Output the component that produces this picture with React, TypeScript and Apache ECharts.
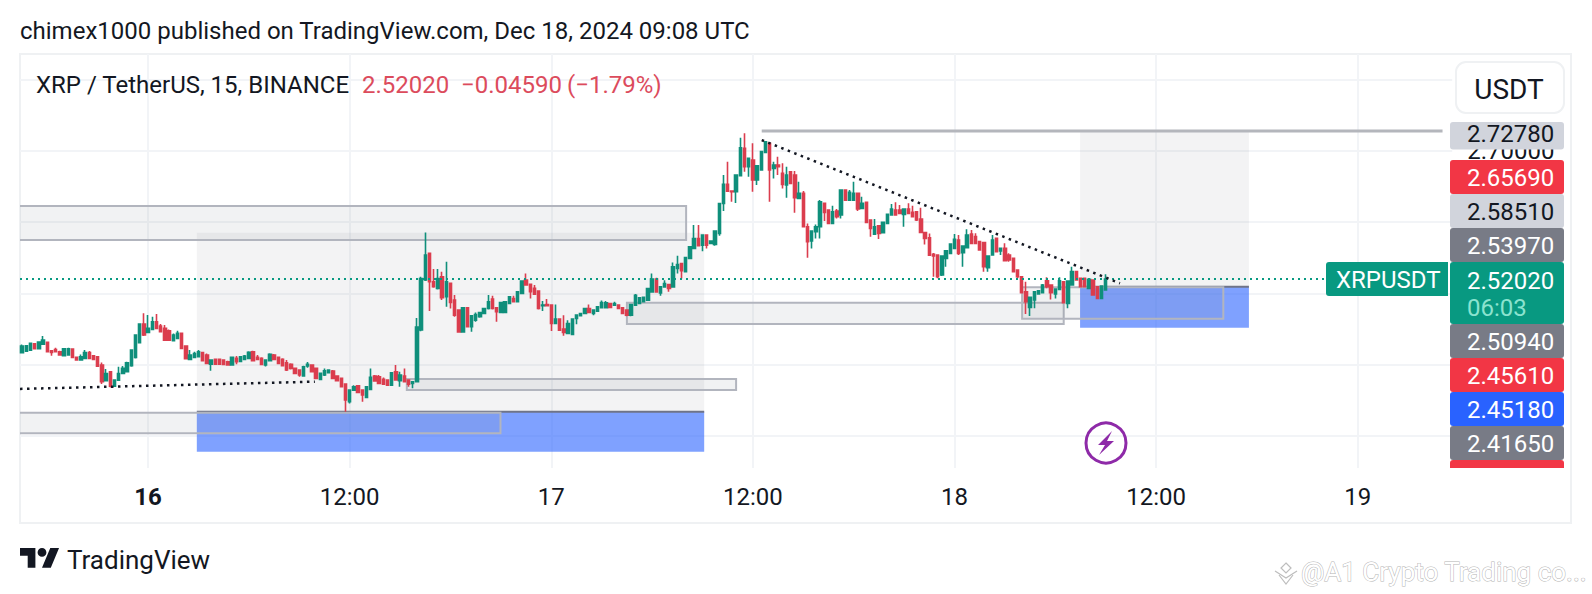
import React, { useEffect, useRef } from "react";
import * as echarts from "echarts";

// Candles: [open, close, low, high], 15-minute bars from Dec 15 16:30
const ohlcDec15Evening = [
  [2.4167,2.4261,2.4158,2.4285],[2.4191,2.4266,2.4182,2.4275],[2.4205,2.4299,2.4196,2.4303],[2.4294,2.4224,2.4219,2.4299],
  [2.4224,2.4317,2.4219,2.4327],[2.4289,2.4345,2.4275,2.4402],[2.4313,2.4182,2.4177,2.4317],[2.4196,2.4172,2.4125,2.4205],
  [2.4214,2.4182,2.4172,2.4238],[2.4182,2.4135,2.4125,2.4196],[2.4125,2.4224,2.4121,2.4233],[2.4135,2.4224,2.4125,2.4238],
  [2.4219,2.4102,2.4097,2.4228],[2.4102,2.4065,2.4055,2.4111],[2.4065,2.4111,2.4060,2.4144],[2.4088,2.4172,2.4083,2.4205],
  [2.4172,2.4088,2.4083,2.4191],[2.4125,2.4074,2.4065,2.4135],[2.4111,2.3980,2.3976,2.4121],[2.3994,2.3760,2.3728,2.4032],
  [2.3774,2.3877,2.3770,2.3938],[2.3901,2.3700,2.3681,2.3910],[2.3700,2.3784,2.3690,2.3793],[2.3784,2.3877,2.3779,2.3971],
  [2.3877,2.3948,2.3868,2.3980],[2.3901,2.4027,2.3891,2.4041],[2.3985,2.4205,2.3971,2.4214],[2.4102,2.4416,2.4088,2.4425],
  [2.4308,2.4570,2.4299,2.4579],[2.4570,2.4416,2.4402,2.4720],[2.4453,2.4509,2.4448,2.4696],[2.4495,2.4603,2.4486,2.4673],
  [2.4603,2.4509,2.4500,2.4710],[2.4542,2.4462,2.4453,2.4570],[2.4509,2.4345,2.4336,2.4556],[2.4476,2.4345,2.4336,2.4495],
  [2.4336,2.4416,2.4327,2.4439],[2.4369,2.4439,2.4359,2.4476],[2.4439,2.4228,2.4219,2.4448],[2.4261,2.4083,2.4074,2.4271],
  [2.4074,2.4135,2.4065,2.4205],[2.4102,2.4158,2.4093,2.4182],[2.4111,2.4182,2.4102,2.4205],[2.4172,2.4055,2.4046,2.4182],
  [2.4135,2.4018,2.4008,2.4158],[2.4008,2.4065,2.3915,2.4074],[2.4074,2.4008,2.3999,2.4083],[2.4074,2.4008,2.3999,2.4083],
];
const ohlcDec16Morning = [
  [2.4065,2.4005,2.3995,2.4075],[2.4042,2.3995,2.3986,2.4056],[2.3995,2.4103,2.3986,2.4112],[2.4089,2.4042,2.4005,2.4122],
  [2.4047,2.4112,2.4042,2.4122],[2.4075,2.4122,2.4065,2.4136],[2.4089,2.4173,2.4075,2.4187],[2.4182,2.4056,2.4047,2.4196],
  [2.4103,2.4075,2.4065,2.4136],[2.4089,2.4005,2.3995,2.4103],[2.3995,2.4065,2.3976,2.4075],[2.4056,2.4145,2.4047,2.4159],
  [2.4136,2.4075,2.4065,2.4150],[2.4103,2.4019,2.4005,2.4112],[2.4075,2.3986,2.3976,2.4089],[2.4028,2.3925,2.3911,2.4065],
  [2.4005,2.3948,2.3934,2.4019],[2.3948,2.3878,2.3869,2.3958],[2.3925,2.3855,2.3831,2.3934],[2.3841,2.3972,2.3831,2.3986],
  [2.3981,2.4005,2.3958,2.4037],[2.3995,2.3902,2.3892,2.4005],[2.3948,2.3808,2.3799,2.3958],[2.3794,2.3878,2.3785,2.3888],
  [2.3855,2.3916,2.3841,2.3948],[2.3888,2.3925,2.3878,2.3930],[2.3911,2.3808,2.3799,2.3925],[2.3841,2.3775,2.3766,2.3850],
  [2.3808,2.3691,2.3682,2.3822],[2.3728,2.3504,2.3340,2.3738],[2.3480,2.3644,2.3457,2.3654],[2.3644,2.3691,2.3635,2.3710],
  [2.3705,2.3611,2.3602,2.3714],[2.3644,2.3574,2.3480,2.3654],[2.3541,2.3691,2.3532,2.3700],[2.3654,2.3822,2.3640,2.3948],
  [2.3841,2.3771,2.3761,2.3855],[2.3831,2.3738,2.3728,2.3855],[2.3794,2.3728,2.3719,2.3822],[2.3785,2.3714,2.3705,2.3794],
  [2.3714,2.3888,2.3705,2.3897],[2.3902,2.3785,2.3775,2.3995],[2.3775,2.3855,2.3691,2.3902],[2.3841,2.3761,2.3752,2.3948],
  [2.3785,2.3728,2.3691,2.3794],[2.3738,2.3761,2.3668,2.3766],[2.3762,2.4529,2.3750,2.4655],
];
const ohlcDec16Afternoon = [
  [2.4487,2.5210,2.4470,2.5234],[2.5187,2.5538,2.5173,2.5856],[2.5561,2.5163,2.4752,2.5575],[2.5163,2.5093,2.5079,2.5341],
  [2.5070,2.5210,2.5056,2.5341],[2.5234,2.4939,2.4906,2.5304],[2.4953,2.5163,2.4812,2.5444],[2.5140,2.4873,2.4789,2.5150],
  [2.4906,2.4695,2.4672,2.4976],[2.4766,2.4461,2.4452,2.4775],[2.4461,2.4798,2.4452,2.4808],[2.4798,2.4532,2.4522,2.4808],
  [2.4532,2.4686,2.4461,2.4695],[2.4625,2.4705,2.4602,2.4733],[2.4672,2.4733,2.4660,2.4742],[2.4719,2.4789,2.4710,2.4798],
  [2.4789,2.4883,2.4775,2.4976],[2.4920,2.4789,2.4775,2.4967],[2.4798,2.4742,2.4602,2.4808],[2.4733,2.4873,2.4724,2.4883],
  [2.4733,2.4883,2.4724,2.4892],[2.4859,2.4953,2.4850,2.4962],[2.4929,2.4883,2.4873,2.4967],[2.4883,2.5023,2.4873,2.5032],
  [2.4999,2.5173,2.4990,2.5182],[2.5187,2.5117,2.5107,2.5280],[2.5126,2.5023,2.4929,2.5136],[2.5070,2.4990,2.4976,2.5117],
  [2.5032,2.4789,2.4775,2.5042],[2.4826,2.4836,2.4752,2.4892],[2.4845,2.4826,2.4817,2.4920],[2.4836,2.4578,2.4471,2.4845],
  [2.4578,2.4639,2.4569,2.4845],[2.4639,2.4485,2.4475,2.4649],[2.4499,2.4452,2.4405,2.4695],[2.4438,2.4578,2.4428,2.4625],
  [2.4424,2.4639,2.4414,2.4649],[2.4649,2.4695,2.4569,2.4705],[2.4686,2.4719,2.4676,2.4728],[2.4719,2.4789,2.4710,2.4798],
  [2.4789,2.4733,2.4724,2.4845],[2.4719,2.4766,2.4695,2.4775],[2.4752,2.4812,2.4742,2.4822],[2.4798,2.4873,2.4789,2.4901],
  [2.4798,2.4869,2.4789,2.4892],[2.4859,2.4803,2.4794,2.4869],[2.4836,2.4859,2.4826,2.4883],[2.4836,2.4789,2.4780,2.4845],
  [2.4798,2.4719,2.4710,2.4808],
];
const ohlcDec17Morning = [
  [2.4765,2.4694,2.4680,2.4775],[2.4694,2.4844,2.4680,2.4854],[2.4835,2.4975,2.4825,2.4990],[2.4858,2.4938,2.4849,2.4948],
  [2.4882,2.4947,2.4873,2.4957],[2.4905,2.5069,2.4896,2.5079],[2.5022,2.5200,2.5013,2.5279],[2.5200,2.5022,2.5013,2.5219],
  [2.5008,2.5092,2.4966,2.5102],[2.5092,2.5139,2.5082,2.5186],[2.5125,2.5069,2.5022,2.5135],[2.5092,2.5373,2.5082,2.5434],
  [2.5350,2.5406,2.5279,2.5527],[2.5420,2.5317,2.5209,2.5430],[2.5303,2.5504,2.5293,2.5514],[2.5490,2.5654,2.5480,2.5664],
  [2.5630,2.5771,2.5620,2.5958],[2.5771,2.5668,2.5658,2.5958],[2.5677,2.5818,2.5593,2.5828],[2.5818,2.5677,2.5630,2.5828],
  [2.5701,2.5733,2.5690,2.5745],[2.5687,2.5874,2.5668,2.5884],[2.5841,2.6262,2.5808,2.6272],[2.6262,2.6529,2.6155,2.6660],
  [2.6529,2.6435,2.6426,2.6847],[2.6435,2.6426,2.6286,2.6445],[2.6426,2.6660,2.6267,2.6670],[2.6651,2.7044,2.6641,2.7184],
  [2.7034,2.6777,2.6707,2.7245],[2.6777,2.6894,2.6637,2.6904],[2.6871,2.6590,2.6426,2.7105],[2.6590,2.6791,2.6520,2.6801],
  [2.6730,2.6988,2.6720,2.6998],[2.6978,2.7128,2.6968,2.7138],[2.7105,2.6730,2.6286,2.7115],[2.6754,2.6800,2.6613,2.6847],
  [2.6800,2.6777,2.6660,2.6917],[2.6683,2.6529,2.6473,2.6824],[2.6520,2.6660,2.6342,2.6777],
];
const ohlcDec17Evening = [
  [2.6707,2.6543,2.6530,2.6717],[2.6660,2.6342,2.6132,2.6717],[2.6333,2.6403,2.6320,2.6567],[2.6403,2.5935,2.5925,2.6436],
  [2.5935,2.5724,2.5500,2.5982],[2.5734,2.5874,2.5631,2.5884],[2.5865,2.5935,2.5771,2.5968],[2.5935,2.6286,2.5771,2.6309],
  [2.6263,2.6136,2.6015,2.6273],[2.6169,2.5982,2.5972,2.6179],[2.5982,2.6146,2.5972,2.6230],[2.6155,2.6075,2.6052,2.6183],
  [2.6099,2.6450,2.6052,2.6460],[2.6450,2.6309,2.6300,2.6460],[2.6309,2.6417,2.6300,2.6450],[2.6309,2.6403,2.6300,2.6567],
  [2.6403,2.6183,2.6155,2.6413],[2.6192,2.6263,2.6183,2.6356],[2.6277,2.5996,2.5986,2.6287],[2.6029,2.5912,2.5795,2.6039],
  [2.5832,2.5935,2.5822,2.6043],[2.5949,2.5841,2.5762,2.5959],[2.5851,2.5996,2.5841,2.6006],[2.5982,2.6108,2.5972,2.6118],
  [2.6099,2.6183,2.6089,2.6253],[2.6169,2.6099,2.6089,2.6277],[2.6169,2.6122,2.6113,2.6239],[2.6108,2.6183,2.5935,2.6192],
  [2.6183,2.6122,2.6113,2.6263],[2.6136,2.6075,2.6065,2.6230],[2.6146,2.6029,2.6015,2.6155],[2.6043,2.5855,2.5845,2.6202],
  [2.5855,2.5771,2.5687,2.5865],[2.5781,2.5537,2.5527,2.5841],
];
const ohlcDec18 = [
  [2.5548,2.5525,2.5234,2.5567],[2.5539,2.5234,2.5211,2.5548],[2.5258,2.5525,2.5244,2.5535],[2.5492,2.5599,2.5375,2.5609],
  [2.5562,2.5693,2.5552,2.5703],[2.5632,2.5759,2.5622,2.5833],[2.5749,2.5562,2.5539,2.5819],[2.5571,2.5665,2.5375,2.5675],
  [2.5642,2.5819,2.5632,2.5899],[2.5833,2.5702,2.5692,2.5890],[2.5796,2.5702,2.5692,2.5843],[2.5726,2.5609,2.5599,2.5736],
  [2.5712,2.5375,2.5305,2.5722],[2.5361,2.5525,2.5305,2.5535],[2.5539,2.5749,2.5529,2.5819],[2.5773,2.5585,2.5575,2.5783],
  [2.5595,2.5632,2.5539,2.5642],[2.5632,2.5459,2.5449,2.5702],[2.5539,2.5468,2.5445,2.5562],[2.5492,2.5305,2.5295,2.5502],
  [2.5328,2.5234,2.5211,2.5338],[2.5234,2.5010,2.5000,2.5244],[2.5024,2.4883,2.4710,2.5164],[2.4804,2.4944,2.4682,2.4954],
  [2.4907,2.5024,2.4790,2.5034],[2.4991,2.5038,2.4981,2.5048],[2.5010,2.5117,2.5000,2.5131],[2.5178,2.5094,2.5071,2.5225],
  [2.5117,2.5010,2.4916,2.5127],[2.4991,2.5061,2.4930,2.5071],[2.5057,2.5178,2.5047,2.5225],[2.5164,2.4869,2.4859,2.5174],
  [2.4860,2.5174,2.4790,2.5184],[2.5117,2.5305,2.5107,2.5375],[2.5305,2.5188,2.5178,2.5315],[2.5211,2.5094,2.5084,2.5221],
  [2.5211,2.5094,2.5084,2.5221],[2.5071,2.5197,2.5061,2.5207],[2.5188,2.4977,2.4967,2.5198],[2.5094,2.4930,2.4920,2.5104],
  [2.4930,2.5103,2.4920,2.5113],[2.5047,2.5202,2.5037,2.5267],
];

const timeTickBars = [30, 78, 126, 174, 222, 270, 318];
const timeTickLabels = ["16", "12:00", "17", "12:00", "18", "12:00", "19"];
const gridPrices = [2.3, 2.4, 2.5, 2.6, 2.7, 2.8];
const lastPrice = 2.5202;

// Drawings, in bar positions and prices: [fromBar, toBar, topPrice, bottomPrice]
const longProfitZones = [[41.6, 162.4, 2.5851, 2.3341], [251.9, 292.1, 2.7278, 2.5094]];
const longStopZones = [[41.6, 162.4, 2.3341, 2.278], [251.9, 292.1, 2.5094, 2.4518]];
const rangeBoxes = [
  [-4, 158.1, 2.6226, 2.5749],
  [-4, 113.9, 2.3326, 2.3037],
  [91.6, 170, 2.3799, 2.3645],
  [144, 248, 2.487, 2.4571],
  [238.1, 286, 2.5086, 2.4644],
];
const trendLineHigh = [[176.1, 2.7151], [261.4, 2.5142]];
const trendLineLow = [[-0.5, 2.366], [69.7, 2.3762]];
const resistanceLine = [[176.1, 2.7278], [338.2, 2.7278]];
const lastPriceLine = [[-0.5, lastPrice], [310.5, lastPrice]];

const tagTexts = ["2.72780", "2.65690", "2.58510", "2.53970", "2.52020", "2.50940", "2.45610", "2.45180", "2.41650"];

const FONT = "Roboto";
const INK = "#131722";
const UP = "#0F8F7B";
const DOWN = "#DB3D4E";
const GRID_LINE = "#F2F4F7";

const BAR_W = 4.2;
const GRID_L = 20;
const GRID_T = 54;
const GRID_H = 414;
const BARS = 341;

const tagLayout = [
  { top: 122, h: 27.4, fill: "#D1D4DC", color: "#131722" },
  { top: 160, h: 34, fill: "#F23645", color: "#FFFFFF" },
  { top: 194, h: 34, fill: "#D1D4DC", color: "#131722" },
  { top: 228, h: 34, fill: "#787B86", color: "#FFFFFF" },
  { top: 262, h: 62, fill: "#089981", color: "#FFFFFF" },
  { top: 324, h: 34, fill: "#787B86", color: "#FFFFFF" },
  { top: 358, h: 34, fill: "#F23645", color: "#FFFFFF" },
  { top: 392, h: 34, fill: "#2962FF", color: "#FFFFFF" },
  { top: 426, h: 34, fill: "#787B86", color: "#FFFFFF" },
];

function txt(x: number, y: number, text: string, size: number, fill: string, extra: any = {}) {
  return {
    type: "text",
    x,
    y,
    z: 200,
    silent: true,
    style: { text, fill, fontFamily: FONT, fontSize: size, textVerticalAlign: "middle", verticalAlign: "middle", ...extra },
  };
}

function buildGraphics() {
  const out: any[] = [];
  out.push({
    type: "rect", z: 1, silent: true,
    shape: { x: 20, y: 54, width: 1551, height: 469 },
    style: { fill: "transparent", stroke: "#EFF1F3", lineWidth: 2 },
  });
  out.push(txt(20, 30.5, "chimex1000 published on TradingView.com, Dec 18, 2024 09:08 UTC", 24, INK));
  out.push(txt(36, 85, "XRP / TetherUS, 15, BINANCE", 24, INK));
  out.push(txt(362, 85, "2.52020", 24, "#DC4B5C"));
  out.push(txt(461, 85, "\u22120.04590", 24, "#DC4B5C"));
  out.push(txt(567, 85, "(\u22121.79%)", 24, "#DC4B5C"));

  out.push({
    type: "rect", z: 150, silent: true,
    shape: { x: 1456, y: 62, width: 108, height: 51, r: 10 },
    style: { fill: "#FFFFFF", stroke: "#EFF1F3", lineWidth: 2 },
  });
  out.push(txt(1509, 89, "USDT", 28, INK, { align: "center", textAlign: "center" }));

  tagLayout.forEach((t, i) => {
    out.push({
      type: "rect", z: 150, silent: true,
      shape: { x: 1450, y: t.top, width: 114, height: t.h, r: 3 },
      style: { fill: t.fill },
    });
    const cy = i === 0 ? 134 : i === 4 ? 280.5 : t.top + t.h / 2 + 0.8;
    out.push(txt(1467, cy, tagTexts[i], 24, t.color));
  });
  out.push(txt(1467, 307.5, "06:03", 24, "#8BE3CF"));
  out.push({
    type: "rect", z: 150, silent: true,
    shape: { x: 1450, y: 460, width: 114, height: 8, r: [3, 3, 0, 0] },
    style: { fill: "#F23645" },
  });
  out.push({
    type: "rect", z: 150, silent: true,
    shape: { x: 1326, y: 262, width: 122, height: 34, r: [3, 0, 0, 3] },
    style: { fill: "#089981" },
  });
  out.push(txt(1336, 280, "XRPUSDT", 24, "#FFFFFF"));

  // Lightning badge
  out.push({
    type: "circle", z: 160, silent: true,
    shape: { cx: 1106, cy: 443, r: 20 },
    style: { fill: "transparent", stroke: "#8E2AA8", lineWidth: 3 },
  });
  out.push({
    type: "polygon", z: 160, silent: true,
    shape: { points: [[1112, 431], [1098, 445], [1105, 445], [1099, 455], [1114, 441], [1107, 441]] },
    style: { fill: "#8E2AA8" },
  });

  // TradingView logo
  out.push({
    type: "tvLogo", z: 160, silent: true, x: 20, y: 543.6, scaleX: 1.1, scaleY: 1.1,
    style: { fill: INK },
  });
  out.push(txt(67, 560, "TradingView", 26, INK));

  // Watermark
  out.push({
    type: "polyline", z: 160, silent: true,
    shape: { points: [[1275, 571], [1286, 578], [1297, 571]] },
    style: { stroke: "#BDBDBD", fill: "none", lineWidth: 1.2 },
  });
  out.push({
    type: "polyline", z: 160, silent: true,
    shape: { points: [[1279, 575], [1286, 584], [1293, 575]] },
    style: { stroke: "#BDBDBD", fill: "none", lineWidth: 1.2 },
  });
  out.push({
    type: "polygon", z: 160, silent: true,
    shape: { points: [[1286, 563], [1291, 568], [1286, 573], [1281, 568]] },
    style: { stroke: "#BDBDBD", fill: "none", lineWidth: 1.2 },
  });
  out.push(txt(1301, 572, "@A1 Crypto Trading co...", 26, "#FFFFFF", { stroke: "#B4B4B4", lineWidth: 1 }));
  return out;
}

const TV_LOGO = "M14 22H7V11H0V4h14v18zM28 22h-8l7.5-18h8L28 22zM24 8a4 4 0 1 1-8 0 4 4 0 0 1 8 0z";

export default function App() {
  const ref = useRef<HTMLDivElement>(null);
  useEffect(() => {
    if (!ref.current) return;
    echarts.graphic.registerShape("tvLogo", (echarts.graphic as any).extendPath(TV_LOGO, {}));
    const chart = echarts.init(ref.current, undefined, { renderer: "svg" });

    const candles = [
      ...ohlcDec15Evening,
      ...ohlcDec16Morning,
      ...ohlcDec16Afternoon,
      ...ohlcDec17Morning,
      ...ohlcDec17Evening,
      ...ohlcDec18,
    ];
    const categories = Array.from({ length: BARS }, (_, i) => String(i));

    const zoneItem = (rows: number[][], style: (api: any) => any, entry: boolean) => ({
      type: "custom",
      xAxisIndex: 1,
      yAxisIndex: 0,
      clip: true,
      silent: true,
      z: 5,
      animation: false,
      data: rows,
      encode: { x: [0, 1], y: [2, 3] },
      renderItem: (_p: any, api: any) => {
        const a = api.coord([api.value(0), api.value(2)]);
        const b = api.coord([api.value(1), api.value(3)]);
        const children: any[] = [
          { type: "rect", shape: { x: a[0], y: a[1], width: b[0] - a[0], height: b[1] - a[1] }, style: style(api) },
        ];
        if (entry) {
          children.push({
            type: "line",
            shape: { x1: a[0], y1: a[1], x2: b[0], y2: a[1] },
            style: { stroke: "#6F7488", lineWidth: 2, fill: "none" },
          });
        }
        return { type: "group", children };
      },
    });

    const polyline = (data: number[][], color: string, width: number, type: any, z = 8) => ({
      type: "line",
      xAxisIndex: 1,
      yAxisIndex: 0,
      data,
      showSymbol: false,
      symbol: "none",
      silent: true,
      z,
      lineStyle: { color, width, type },
      animation: false,
    });

    chart.setOption({
      animation: false,
      backgroundColor: "#FFFFFF",
      grid: { left: GRID_L, top: GRID_T, width: BAR_W * BARS, height: GRID_H, containLabel: false },
      xAxis: [
        {
          type: "category",
          data: categories,
          boundaryGap: true,
          axisLine: { show: false },
          axisTick: { show: false },
          splitLine: { show: false },
          axisLabel: {
            margin: 17,
            fontFamily: FONT,
            fontSize: 24,
            color: INK,
            hideOverlap: false,
            interval: (i: number) => timeTickBars.includes(i),
            formatter: (_v: string, i: number) => {
              const k = timeTickBars.indexOf(i);
              if (k < 0) return "";
              return k === 0 ? `{b|${timeTickLabels[k]}}` : timeTickLabels[k];
            },
            rich: { b: { fontFamily: FONT, fontSize: 24, fontWeight: "bold", color: INK } },
          },
        },
        { type: "value", show: false, min: -0.5, max: BARS - 0.5, splitLine: { show: false } },
      ],
      yAxis: {
        type: "value",
        position: "right",
        min: 2.2551,
        max: 2.8358,
        scale: true,
        axisLine: { show: false },
        axisTick: { show: false },
        splitLine: { show: false },
        axisLabel: {
          customValues: [2.7],
          margin: 15,
          fontFamily: FONT,
          fontSize: 24,
          color: INK,
          formatter: (v: number) => v.toFixed(5),
        },
      },
      graphic: { elements: buildGraphics() },
      series: [
        {
          type: "line",
          xAxisIndex: 1,
          yAxisIndex: 0,
          data: [],
          silent: true,
          z: 0,
          markLine: {
            silent: true,
            symbol: "none",
            animation: false,
            label: { show: false },
            lineStyle: { color: GRID_LINE, width: 2, type: "solid" },
            data: [
              ...gridPrices.map((p) => ({ yAxis: p })),
              ...timeTickBars.map((b) => ({ xAxis: b })),
            ],
          },
        },
        zoneItem(longProfitZones, () => ({ fill: "rgba(120,123,134,0.09)" }), false),
        { ...zoneItem(longStopZones, () => ({ fill: "rgba(41,98,255,0.6)" }), true), z: 5 },
        {
          ...zoneItem(rangeBoxes, () => ({ fill: "rgba(120,123,134,0.1)", stroke: "#B2B5BE", lineWidth: 2 }), false),
          z: 5,
        },
        {
          type: "candlestick",
          xAxisIndex: 0,
          yAxisIndex: 0,
          data: candles,
          barWidth: 2.8,
          z: 6,
          silent: true,
          itemStyle: { color: UP, color0: DOWN, borderColor: UP, borderColor0: DOWN, borderWidth: 1.6 },
        },
        polyline(lastPriceLine, "#089981", 2, [2, 4], 8),
        polyline(resistanceLine, "#B4B6BC", 3, "solid", 8),
        polyline(trendLineHigh, "#131722", 2.5, [2.5, 4.5], 9),
        polyline(trendLineLow, "#131722", 2.5, [2.5, 4.5], 9),
      ],
    });
    return () => chart.dispose();
  }, []);
  return <div ref={ref} style={{ position: "absolute", left: 0, top: 0, width: 1592, height: 594 }} />;
}
